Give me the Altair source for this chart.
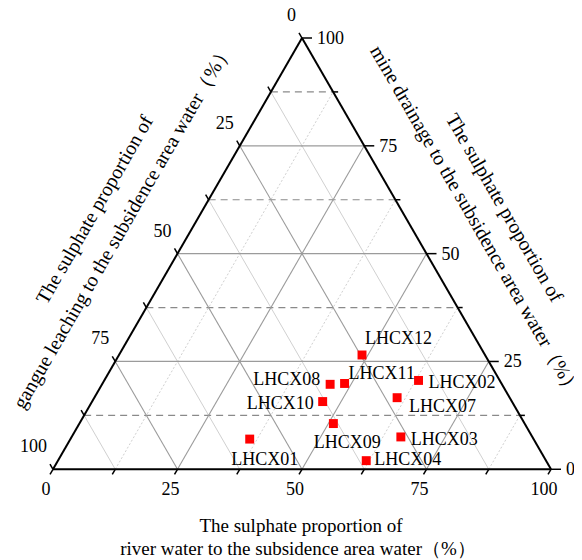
import altair as alt
import pandas as pd
import numpy as np

# ---------------- data ----------------
names  = ["LHCX01", "LHCX02", "LHCX03", "LHCX04", "LHCX07",
          "LHCX08", "LHCX09", "LHCX10", "LHCX11", "LHCX12"]
river  = [36.0, 63.1, 66.1, 61.9, 60.8, 45.8, 51.0, 46.3, 48.6, 48.8]   # bottom axis (%)
mine   = [7.0, 20.6, 7.5, 2.0, 16.6, 19.7, 10.6, 15.7, 19.9, 26.5]      # right axis (%)
gangue = [57.0, 16.3, 26.4, 36.1, 22.6, 34.5, 38.4, 38.0, 31.5, 24.7]   # left axis (%)

major_vals = [25, 50, 75]
minor_vals = [12.5, 37.5, 62.5, 87.5]
tick_vals = [0, 12.5, 25, 37.5, 50, 62.5, 75, 87.5, 100]
label_vals = [0, 25, 50, 75, 100]

bottom_title = ["The sulphate proportion of",
                "river water to the subsidence area water（%）"]
left_title = ["The sulphate proportion of",
              "gangue leaching to the subsidence area water（%）"]
right_title = ["The sulphate proportion of",
               "mine drainage to the subsidence area water（%）"]

# ---------------- layout / style ----------------
W, H = 566, 552
S = 4.98                      # px per data unit
R3 = np.sqrt(3) / 2
xmin = -45 / S
xmax = xmin + W / S
ymax = 100 * R3 + 30 / S
ymin = ymax - H / S
FONT = "Liberation Serif"

xs = alt.Scale(domain=[xmin, xmax], nice=False, zero=False)
ys = alt.Scale(domain=[ymin, ymax], nice=False, zero=False)


def seg_df(rows):
    return pd.DataFrame(rows, columns=["x", "y", "x2", "y2"])


def rules(df, color, width=1.0, dash=None):
    kw = dict(color=color, strokeWidth=width)
    if dash is not None:
        kw["strokeDash"] = dash
    return alt.Chart(df).mark_rule(**kw).encode(
        x=alt.X("x:Q", scale=xs, axis=None),
        y=alt.Y("y:Q", scale=ys, axis=None),
        x2="x2:Q", y2="y2:Q")


# horizontal lines (mine drainage constant)
def hline(m):
    return (m / 2, m * R3, 100 - m / 2, m * R3)


# gangue constant (parallel to right edge)
def gline(g):
    return ((100 - g) / 2, (100 - g) * R3, 100 - g, 0)


# river constant (parallel to left edge)
def rline(r):
    return (r, 0, (100 + r) / 2, (100 - r) * R3)


GRAY = "#9b9b9b"
LIGHT = "#d0d0d0"
layers = []
layers.append(rules(seg_df([gline(v) for v in minor_vals]), LIGHT, 1))
layers.append(rules(seg_df([rline(v) for v in minor_vals]), LIGHT, 1, [2, 2]))
layers.append(rules(seg_df([hline(v) for v in minor_vals]), "#8a8a8a", 1.2, [7, 5]))
layers.append(rules(seg_df([hline(v) for v in major_vals]), GRAY, 1.2))
layers.append(rules(seg_df([gline(v) for v in major_vals]), GRAY, 1.1))
layers.append(rules(seg_df([rline(v) for v in major_vals]), GRAY, 1.1))

# ticks
tl_major = 10 / S
tl_minor = 5 / S
tl_side = 6 / S
rt = []
for m in tick_vals:
    L = tl_major if m in label_vals else tl_minor
    rt.append((100 - m / 2, m * R3, 100 - m / 2 + L, m * R3))
lt = []
for g in tick_vals:
    px, py = (100 - g) / 2, (100 - g) * R3
    lt.append((px, py, px - 0.5 * tl_side, py + R3 * tl_side))
bt = []
for r in tick_vals:
    bt.append((r, 0, r - 0.5 * tl_side, -R3 * tl_side))
layers.append(rules(seg_df(rt + lt + bt), "black", 1.5))

# triangle edges
edges = seg_df([(0, 0, 100, 0), (0, 0, 50, 100 * R3), (50, 100 * R3, 100, 0)])
layers.append(rules(edges, "black", 2))

# tick labels
def lab_df(rows):
    return pd.DataFrame(rows, columns=["x", "y", "t"])


def text_layer(df, align, dx, dy, size=18, baseline="middle"):
    return alt.Chart(df).mark_text(
        align=align, baseline=baseline, dx=dx, dy=dy, font=FONT,
        fontSize=size, color="black").encode(
        x=alt.X("x:Q", scale=xs, axis=None),
        y=alt.Y("y:Q", scale=ys, axis=None),
        text="t:N")


bl = lab_df([(v, 0, str(v)) for v in label_vals])
ll = lab_df([((100 - v) / 2, (100 - v) * R3, str(v)) for v in label_vals])
rl = lab_df([(100 - v / 2, v * R3, str(v)) for v in label_vals])
layers.append(text_layer(bl, "center", -7, 21))
layers.append(text_layer(ll, "right", -6, -22))
layers.append(text_layer(rl, "left", 15, 1))

# points
pts = pd.DataFrame({"name": names, "river": river, "mine": mine, "gangue": gangue})
base = alt.Chart(pts).transform_calculate(
    px="datum.river + datum.mine / 2",
    py="datum.mine * sqrt(3) / 2")
layers.append(base.mark_square(size=80, color="#ff0000", opacity=1).encode(
    x=alt.X("px:Q", scale=xs, axis=None),
    y=alt.Y("py:Q", scale=ys, axis=None)))

placement = [
    (["LHCX02", "LHCX03"], "left", 10, 3),
    (["LHCX04"], "left", 8, -1),
    (["LHCX07"], "left", 12, 9),
    (["LHCX12"], "left", 3, -16),
    (["LHCX11"], "left", 4, -9),
    (["LHCX08"], "right", -10, -4),
    (["LHCX10"], "right", -9, 2),
    (["LHCX09"], "center", 14, 19),
    (["LHCX01"], "center", 15, 21),
]
for group, align, dx, dy in placement:
    layers.append(base.transform_filter(
        alt.FieldOneOfPredicate(field="name", oneOf=group)).mark_text(
        align=align, baseline="middle", dx=dx, dy=dy, font=FONT,
        fontSize=18, color="black").encode(
        x=alt.X("px:Q", scale=xs, axis=None),
        y=alt.Y("py:Q", scale=ys, axis=None),
        text="name:N"))

# axis titles (pixel positions inside the chart)
def title_text(txt, xp, yp, angle, size, baseline="middle"):
    kw = dict(align="center", baseline=baseline, font=FONT, fontSize=size,
              color="black", text=txt)
    if angle:
        kw["angle"] = angle
    return alt.Chart(pd.DataFrame({"a": [0]})).mark_text(**kw).encode(
        x=alt.value(xp), y=alt.value(yp))


layers.append(title_text(bottom_title[0], 293, 523.5, 0, 19, "alphabetic"))
layers.append(title_text(bottom_title[1], 290, 547, 0, 19, "alphabetic"))
layers.append(title_text(left_title[0], 87, 202, 300, 20))
layers.append(title_text(left_title[1], 115, 218.5, 300, 20))
layers.append(title_text(right_title[0], 496, 200, 60, 20))
layers.append(title_text(right_title[1], 467, 213, 60, 20))

chart = alt.layer(*layers).properties(
    width=W, height=H,
    autosize=alt.AutoSizeParams(type="none"),
    padding=0,
).configure_view(stroke=None)

chart.save("out.html", embed_options={"renderer": "svg", "actions": False})
